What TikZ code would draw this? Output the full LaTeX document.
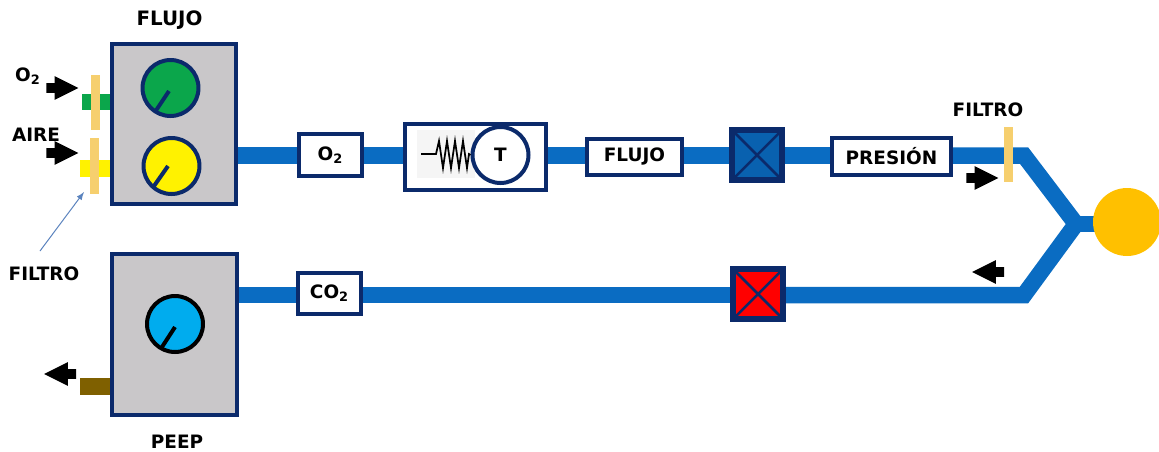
\documentclass[tikz,border=0pt]{standalone}
\usepackage{fontspec}
\setmainfont{DejaVu Sans}
\usetikzlibrary{shapes.arrows,backgrounds}
\definecolor{marino}{HTML}{0B2A6B}
\definecolor{tubo}{HTML}{0A6CC2}
\definecolor{filtrocol}{HTML}{F6CF6E}
\definecolor{verdek}{HTML}{0BA64B}
\definecolor{azulk}{HTML}{00ACEE}
\definecolor{cafe}{HTML}{7F6000}
\definecolor{oro}{HTML}{FFC000}
\definecolor{gris}{HTML}{C9C7C9}
\definecolor{acero}{HTML}{5B83BE}
\tikzset{
  etiqueta/.style={font=\fontsize{10.5}{12}\bfseries\selectfont,inner sep=0pt},
  caja/.style={draw=marino,line width=0.08cm,fill=white,inner sep=0pt,font=\fontsize{10.5}{12}\bfseries\selectfont},
  panel/.style={draw=marino,line width=0.08cm,fill=gris,inner sep=0pt},
  perilla/.style={circle,draw=marino,line width=0.08cm,minimum size=1.12cm,inner sep=0pt},
  aguja/.style={draw=marino,line width=0.08cm},
  valvula/.style={draw=marino,line width=0.12cm,minimum size=1cm,inner sep=0pt,outer sep=0pt},
  cruz/.style={draw=marino,line width=0.05cm},
  filtro/.style={fill=filtrocol,minimum width=0.18cm,minimum height=1.1cm,inner sep=0pt},
  tuberia/.style={draw=tubo,line width=0.33cm,line join=miter},
  flecha/.style={single arrow,fill=black,minimum height=0.64cm,inner xsep=0pt,inner ysep=0.09cm,
    single arrow head extend=0.14cm,single arrow tip angle=53},
}
\begin{document}
\begin{tikzpicture}[x=0.02cm,y=-0.02cm]
    \useasboundingbox (0,0) rectangle (1159,451);

    % paneles
    \node[panel,minimum width=2.5cm,minimum height=3.22cm] (flujopanel) at (174,124) {};
    \node[panel,minimum width=2.52cm,minimum height=3.24cm] (peeppanel) at (174.5,334.5) {};
    \node[etiqueta,font=\fontsize{11.3}{12}\bfseries\selectfont] (flujotxt) at (169.5,20) {FLUJO};
    \node[etiqueta] (peeptxt) at (177,442) {PEEP};

    % perillas
    \node[perilla,fill=verdek] (knobverde) at (170.5,88) {};
    \node[perilla,fill=yellow] (knobamarillo) at (171.5,166) {};
    \node[perilla,draw=black,fill=azulk] (knobazul) at (175,324) {};
    \coordinate (ejeverde) at (169,91);
    \coordinate (puntaverde) at (155,112);
    \coordinate (ejeamarillo) at (168,166);
    \coordinate (puntaamarillo) at (154,186);
    \coordinate (ejeazul) at (175,327);
    \coordinate (puntaazul) at (162,347);
    \draw[aguja] (ejeverde) -- (puntaverde);
    \draw[aguja] (ejeamarillo) -- (puntaamarillo);
    \draw[aguja,draw=black] (ejeazul) -- (puntaazul);

    % linea superior
    \node[caja,minimum width=1.28cm,minimum height=0.84cm] (cajao) at (330.5,155) {O\textsubscript{2}};
    \node[caja,line width=0.09cm,minimum width=2.82cm,minimum height=1.32cm] (cajat) at (475.5,157) {};
    \node[caja,minimum width=1.9cm,minimum height=0.72cm] (cajaflujo) at (634.5,156.5) {FLUJO\hspace{0.12cm}};
    \node[valvula,fill=tubo!90!black] (valvazul) at (757,155) {};
    \node[caja,minimum width=2.38cm,minimum height=0.74cm] (cajapresion) at (891.5,156) {PRESIÓN};
    \draw[cruz] (valvazul.north west) -- (valvazul.south east);
    \draw[cruz] (valvazul.north east) -- (valvazul.south west);

    % termometro
    \node[fill=black!4,minimum width=1.16cm,minimum height=0.96cm,inner sep=0pt] (fondor) at (446,154) {};
    \node[circle,draw=marino,line width=0.08cm,fill=white,minimum size=1.12cm,inner sep=0pt,
      font=\fontsize{10.5}{12}\bfseries\selectfont] (circulot) at (500.5,155) {T};
    \coordinate (rinicio) at (421,154);
    \draw[line width=0.035cm] (rinicio) -- ++(15,0) -- ++(3,-13) -- ++(4,27) -- ++(4,-27) -- ++(4,27)
      -- ++(4,-27) -- ++(4,27) -- ++(4,-27) -- ++(4,27) -- ++(2,-14) -- (circulot.west);

    % linea inferior
    \node[caja,minimum width=1.26cm,minimum height=0.82cm] (cajaco) at (329.5,293.5) {CO\textsubscript{2}};
    \node[valvula,fill=red] (valvroja) at (758,294) {};
    \draw[cruz] (valvroja.north west) -- (valvroja.south east);
    \draw[cruz] (valvroja.north east) -- (valvroja.south west);

    % paciente y tubos
    \node[circle,fill=oro,minimum size=1.36cm,inner sep=0pt] (paciente) at (1127,222) {};
    \coordinate (codoa) at (1024,155.5);
    \coordinate (codob) at (1024,295);
    \coordinate (union) at (1076,224);
    \coordinate (ento) at (82,102);
    \coordinate (entaire) at (80,168.5);
    \coordinate (salpeep) at (80,386.5);
    \begin{scope}[on background layer]
        \draw[tuberia] (flujopanel.east |- codoa) -- (cajao.west |- codoa);
        \draw[tuberia] (cajao.east |- codoa) -- (cajat.west |- codoa);
        \draw[tuberia] (cajat.east |- codoa) -- (cajaflujo.west |- codoa);
        \draw[tuberia] (cajaflujo.east |- codoa) -- (valvazul.west |- codoa);
        \draw[tuberia] (valvazul.east |- codoa) -- (cajapresion.west |- codoa);
        \draw[tuberia] (cajapresion.east |- codoa) -- (codoa) -- (union) -- (codob) -- (valvroja.east |- codob);
        \draw[tuberia] (union) -- (union -| paciente);
        \draw[tuberia] (peeppanel.east |- codob) -- (cajaco.west |- codob);
        \draw[tuberia] (cajaco.east |- codob) -- (valvroja.west |- codob);
        \draw[draw=verdek,line width=0.32cm] (ento) -- (ento -| flujopanel.west);
        \draw[draw=yellow,line width=0.34cm] (entaire) -- (entaire -| flujopanel.west);
        \draw[draw=cafe,line width=0.34cm] (salpeep) -- (salpeep -| peeppanel.west);
    \end{scope}

    % filtros
    \node[filtro] (filtroo) at (95.5,102.5) {};
    \node[filtro,minimum height=1.12cm] (filtroaire) at (94.5,166) {};
    \node[filtro,minimum height=1.1cm] (filtrotubo) at (1008.5,154.5) {};
    \node[etiqueta] (filtrotxtb) at (988,110) {FILTRO};
    \node[etiqueta] (filtrotxta) at (44,274) {FILTRO};
    \coordinate (filtroini) at (40,251);
    \coordinate (filtrofin) at (84,192);
    \draw[->,>=latex,draw=acero,line width=0.02cm] (filtroini) -- (filtrofin);

    % flechas
    \node[flecha] (flechao) at (57.5,88) {};
    \node[flecha] (flechaaire) at (57.5,153) {};
    \node[flecha] (flechaflujo) at (977.5,178) {};
    \node[flecha,shape border rotate=180] (flecharetorno) at (993,272) {};
    \node[flecha,shape border rotate=180] (flechapeep) at (65,374) {};
    \node[etiqueta] (otxt) at (28,76) {O\textsubscript{2}};
    \node[etiqueta] (airetxt) at (36,135) {AIRE};
\end{tikzpicture}
\end{document}
